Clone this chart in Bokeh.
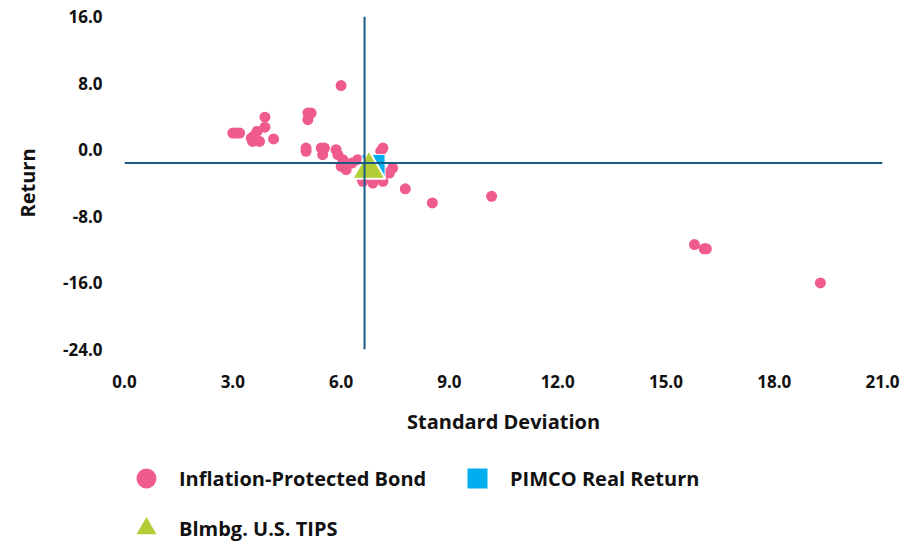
from bokeh.plotting import figure
from bokeh.layouts import column
from bokeh.models import Span, Legend, LegendItem, FixedTicker, PrintfTickFormatter
from bokeh.embed import file_html
from bokeh.resources import INLINE

# Data
bond_std = [6.0, 3.89, 3.89, 3.0, 3.1, 3.19, 3.67, 3.51, 3.55, 3.74, 3.6, 4.13,
            5.08, 5.17, 5.08, 5.03, 5.03, 5.45, 5.54, 5.49, 5.86, 5.91, 6.05, 6.14,
            6.0, 6.46, 6.3, 7.16, 7.1, 7.43, 7.11, 7.34, 6.6, 6.88, 7.16, 6.55, 7.0,
            7.78, 8.53, 10.17, 15.79, 16.06, 16.12, 19.28]
bond_ret = [7.7, 3.9, 2.7, 2.0, 2.0, 2.0, 2.2, 1.4, 1.0, 1.0, 1.7, 1.3,
            4.4, 4.4, 3.6, 0.2, -0.2, 0.2, 0.2, -0.6, 0.0, -0.6, -1.2, -2.4,
            -2.0, -1.2, -1.6, 0.2, -0.2, -2.2, -2.4, -2.8, -3.8, -4.0, -3.8, -3.3, -3.4,
            -4.7, -6.4, -5.6, -11.4, -11.9, -11.9, -16.0]
pimco_std = [6.9]
pimco_ret = [-1.95]
tips_std = [6.77]
tips_ret = [-2.35]
cross_std = 6.65   # vertical reference line
cross_ret = -1.6   # horizontal reference line

x_ticks = [0, 3, 6, 9, 12, 15, 18, 21]
y_ticks = [-24, -16, -8, 0, 8, 16]

FONT = "Open Sans"
PINK = "#ef5b8c"
BLUE = "#00aeef"
GREEN = "#b2cd35"
LINE = "#1a5b85"
TXT = "#111111"

p = figure(width=912, height=440, x_range=(0, 21), y_range=(-24, 16),
           output_backend="svg", toolbar_location=None,
           min_border_left=124, min_border_right=30, min_border_top=16,
           min_border_bottom=91)
p.outline_line_color = None
p.xgrid.grid_line_color = None
p.ygrid.grid_line_color = None

for ax in (p.xaxis[0], p.yaxis[0]):
    ax.axis_line_color = None
    ax.major_tick_line_color = None
    ax.minor_tick_line_color = None
    ax.major_tick_out = 0
    ax.major_tick_in = 0
    ax.minor_tick_out = 0
    ax.major_label_text_font = FONT
    ax.major_label_text_font_style = "bold"
    ax.major_label_text_font_size = "17px"
    ax.major_label_text_color = TXT
    ax.axis_label_text_font = FONT
    ax.axis_label_text_font_style = "bold"
    ax.axis_label_text_font_size = "20px"
    ax.axis_label_text_color = TXT
    ax.formatter = PrintfTickFormatter(format="%.1f")

p.xaxis.ticker = FixedTicker(ticks=x_ticks)
p.yaxis.ticker = FixedTicker(ticks=y_ticks)
p.xaxis.axis_label = "Standard Deviation"
p.yaxis.axis_label = "Return"
p.xaxis.major_label_standoff = 25
p.xaxis.axis_label_standoff = 17
p.yaxis.major_label_standoff = 22
p.yaxis.axis_label_standoff = 19

r_bond = p.scatter(bond_std, bond_ret, size=11, marker="circle",
                   fill_color=PINK, line_color=None)
p.add_layout(Span(location=cross_std, dimension="height", line_color=LINE, line_width=2))
p.add_layout(Span(location=cross_ret, dimension="width", line_color=LINE, line_width=2))
r_pimco = p.scatter(pimco_std, pimco_ret, size=23, marker="square",
                    fill_color=BLUE, line_color="white", line_width=1)
r_tips = p.scatter(tips_std, tips_ret, size=33, marker="triangle",
                   fill_color=GREEN, line_color="white", line_width=2)

# Legend panel (separate figure below the chart); proxy renderers lie outside its range
pl = figure(width=912, height=113, x_range=(0, 1), y_range=(0, 1),
            output_backend="svg", toolbar_location=None,
            min_border_left=124, min_border_right=30, min_border_top=0,
            min_border_bottom=0)
pl.axis.visible = False
pl.xgrid.grid_line_color = None
pl.ygrid.grid_line_color = None
pl.outline_line_color = None
lg_bond = pl.scatter(bond_std[:1], bond_ret[:1], marker="circle", fill_color=PINK, line_color=None)
lg_pimco = pl.scatter(pimco_std, pimco_ret, marker="square", fill_color=BLUE, line_color=None)
lg_tips = pl.scatter(tips_std, tips_ret, marker="triangle", fill_color=GREEN, line_color=None)

legend = Legend(items=[
    LegendItem(label="Inflation-Protected Bond", renderers=[lg_bond]),
    LegendItem(label="PIMCO Real Return", renderers=[lg_pimco]),
    LegendItem(label="Blmbg. U.S. TIPS", renderers=[lg_tips]),
], orientation="horizontal", ncols=2, location=(-3, 0),
    glyph_width=50, glyph_height=50, label_standoff=8, label_width=273,
    spacing=0, padding=0, margin=0, border_line_color=None,
    background_fill_alpha=0,
    label_text_font=FONT, label_text_font_style="bold",
    label_text_font_size="20px", label_text_color=TXT)
pl.add_layout(legend, "center")

layout = column(p, pl, spacing=0)
open("out.html", "w").write(file_html(layout, INLINE))
